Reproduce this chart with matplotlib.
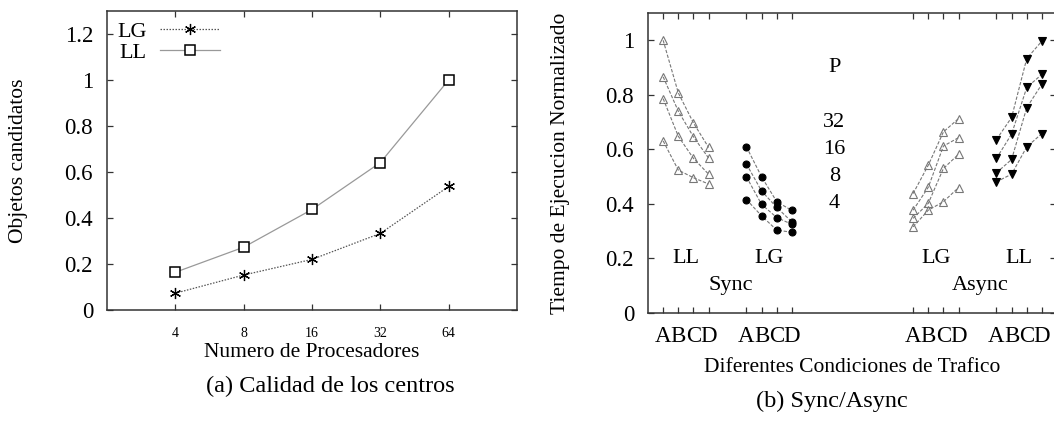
import numpy as np
import matplotlib
matplotlib.use("Agg")
import matplotlib.pyplot as plt

plt.rcParams['font.family'] = ['Liberation Serif', 'DejaVu Serif']

# (a) Calidad de los centros
procs = [4, 8, 16, 32, 64]
lg_quality = [0.073, 0.152, 0.22, 0.333, 0.537]
ll_quality = [0.164, 0.273, 0.437, 0.641, 1.0]

# (b) Sync/Async, one row per P (32, 16, 8, 4), columns A B C D
conds = ['A', 'B', 'C', 'D']
p_values = ['32', '16', '8', '4']
sync_ll = [[1.0, 0.807, 0.697, 0.607],
           [0.866, 0.740, 0.646, 0.568],
           [0.786, 0.648, 0.567, 0.509],
           [0.631, 0.524, 0.496, 0.473]]
sync_lg = [[0.609, 0.499, 0.408, 0.376],
           [0.546, 0.447, 0.387, 0.334],
           [0.499, 0.398, 0.350, 0.325],
           [0.416, 0.356, 0.304, 0.296]]
async_lg = [[0.438, 0.542, 0.664, 0.713],
            [0.377, 0.461, 0.612, 0.643],
            [0.347, 0.402, 0.530, 0.582],
            [0.316, 0.377, 0.408, 0.460]]
async_ll = [[0.636, 0.717, 0.933, 0.997],
            [0.567, 0.656, 0.827, 0.875],
            [0.514, 0.563, 0.753, 0.839],
            [0.481, 0.509, 0.609, 0.658]]
group_start = [1, 6.5, 17.5, 23]

W, H = 1054, 421
fig = plt.figure(figsize=(W / 100, H / 100), dpi=100)

def frame(ax):
    for s in ax.spines.values():
        s.set_linewidth(1.1)
        s.set_color('#333333')
    ax.tick_params(direction='in', top=True, right=True, length=4,
                   width=0.9, color='#333333', labelsize=16.5)
    ax.tick_params(axis='y', pad=10)

# ---- left panel
ax1 = fig.add_axes([107 / W, 1 - 310 / H, 410 / W, 299 / H])
frame(ax1)
ax1.set_xscale('log', base=2)
ax1.plot(procs, lg_quality, color='#555555', ls=(0, (1.2, 1.2)), lw=0.9,
         marker=(6, 2, 0), ms=8, mfc='black', mec='black', mew=0.9, label='LG')
ax1.plot(procs, ll_quality, color='#999999', ls='-', lw=0.9,
         marker='s', ms=7, mfc='white', mec='black', mew=1.1, label='LL')
ax1.set_xlim(2, 128)
ax1.set_ylim(0, 1.3)
ax1.set_xticks(procs)
ax1.set_xticklabels([str(p) for p in procs], fontsize=10)
ax1.xaxis.set_minor_locator(matplotlib.ticker.NullLocator())
ax1.set_yticks([0, 0.2, 0.4, 0.6, 0.8, 1.0, 1.2])
ax1.set_yticklabels(['0', '0.2', '0.4', '0.6', '0.8', '1', '1.2'])
ax1.tick_params(axis='x', pad=12)
ax1.set_ylabel('Objetos candidatos', fontsize=15.5)
ax1.yaxis.set_label_coords(-0.193, 0.5)
ax1.set_xlabel('Numero de Procesadores', fontsize=15.5)
ax1.xaxis.set_label_coords(0.5, -0.110)
leg = ax1.legend(loc='upper left', frameon=False, markerfirst=False,
                 numpoints=1, handlelength=2.7, fontsize=16,
                 borderaxespad=0.05, labelspacing=0.05, handletextpad=0.6)
fig.text(330 / W, 1 - 386 / H, '(a) Calidad de los centros',
         ha='center', va='center', fontsize=17.5)

# ---- right panel
x_max = (1056 - 648) / 15.15
ax2 = fig.add_axes([648 / W, 1 - 313 / H, 408 / W, 300 / H])
frame(ax2)
xs_all = []
styles = [
    (sync_ll, group_start[0], dict(marker='^', mfc='none', mec='#777777', ms=6)),
    (sync_lg, group_start[1], dict(marker='o', mfc='black', mec='black', ms=5)),
    (async_lg, group_start[2], dict(marker='^', mfc='none', mec='#777777', ms=6)),
    (async_ll, group_start[3], dict(marker='v', mfc='black', mec='black', ms=5.5)),
]
for data, x0, st in styles:
    xs = [x0 + i for i in range(len(conds))]
    xs_all += xs
    for row in data:
        ax2.plot(xs, row, color='#777777', ls=(0, (3, 1.5)), lw=0.8,
                 mew=0.8, **st)
ax2.set_xlim(0, x_max)
ax2.set_ylim(0, 1.1)
ax2.set_xticks(xs_all)
ax2.set_xticklabels(conds * 4, fontsize=16.5)
ax2.set_yticks([0, 0.2, 0.4, 0.6, 0.8, 1.0])
ax2.set_yticklabels(['0', '0.2', '0.4', '0.6', '0.8', '1'])
ax2.tick_params(axis='x', pad=9)
ax2.set_ylabel('Tiempo de Ejecucion Normalizado', fontsize=15.5)
ax2.yaxis.set_label_coords(-0.191, 0.5)
ax2.set_xlabel('Diferentes Condiciones de Trafico', fontsize=15.5)
ax2.xaxis.set_label_coords(0.5, -0.15)

fs = 16
ax2.text(12.3, 0.9, 'P', ha='center', va='center', fontsize=fs)
for k, p in enumerate(p_values):
    ax2.text(12.3, 0.7 - 0.1 * k, p, ha='center', va='center', fontsize=fs)
for x0, lab in zip(group_start, ['LL', 'LG', 'LG', 'LL']):
    ax2.text(x0 + 1.5, 0.2, lab, ha='center', va='center', fontsize=fs)
ax2.text((group_start[0] + group_start[1] + 3) / 2 + 0.2, 0.1, 'Sync',
         ha='center', va='center', fontsize=fs)
ax2.text((group_start[2] + group_start[3] + 3) / 2 + 0.2, 0.1, 'Async',
         ha='center', va='center', fontsize=fs)
fig.text(832 / W, 1 - 401 / H, '(b) Sync/Async',
         ha='center', va='center', fontsize=17.5)

fig.savefig('out.png', dpi=100)
